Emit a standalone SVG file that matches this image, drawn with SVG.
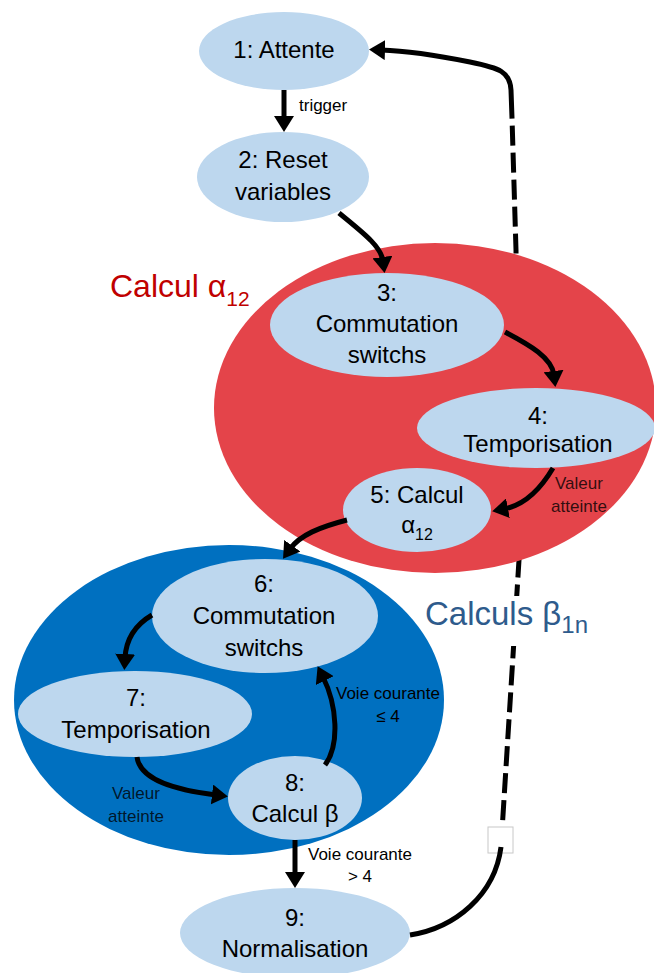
<svg xmlns="http://www.w3.org/2000/svg" width="654" height="973" viewBox="0 0 654 973">
<style>
.node{fill:#bdd7ee;}
.nt{font-family:"Liberation Sans",Arial,sans-serif;font-size:24px;fill:#000;text-anchor:middle;}
.lbl{font-family:"Liberation Sans",Arial,sans-serif;font-size:17px;fill:#000;}
.lbl2{font-family:"Liberation Sans",Arial,sans-serif;font-size:17px;fill:#000;fill-opacity:0.8;text-anchor:middle;}
.edge{fill:none;stroke:#000;stroke-width:5;}
.dash{fill:none;stroke:#000;stroke-width:5;stroke-dasharray:20 7;}
</style>
<defs>
<marker id="arr" markerUnits="userSpaceOnUse" markerWidth="16" markerHeight="20" refX="4" refY="10" orient="auto">
<path d="M0,0 L16,10 L0,20 Z" fill="#000"/>
</marker>
</defs>
<rect width="654" height="973" fill="#fff"/>

<g id="return-dashed">
<path class="dash" d="M501 847 L519 560 L516 250 L512 118"/>
</g>

<g id="group-alpha">
<ellipse cx="435" cy="408" rx="221" ry="165" fill="#e4444a"/>
<text x="110" y="297" font-family="Liberation Sans,Arial,sans-serif" font-size="32" fill="#c00000">Calcul α<tspan font-size="21" dy="9">12</tspan></text>
</g>

<g id="group-beta">
<ellipse cx="229" cy="700" rx="215" ry="155" fill="#0070c0"/>
<rect x="498" y="596" width="32" height="50" fill="#fff"/>
<text x="425" y="625" font-family="Liberation Sans,Arial,sans-serif" font-size="33" fill="#2e5b8c">Calculs β<tspan font-size="24" dy="8">1n</tspan></text>
</g>

<rect x="488" y="827" width="25" height="26" fill="#fff" stroke="#c8c8c8" stroke-width="1"/>

<g id="n1"><ellipse class="node" cx="284" cy="51" rx="85" ry="39"/><text class="nt" x="284" y="58">1: Attente</text></g>
<g id="n2"><ellipse class="node" cx="283" cy="177" rx="86" ry="45"/><text class="nt" x="283" y="168">2: Reset</text><text class="nt" x="283" y="200">variables</text></g>
<g id="n3"><ellipse class="node" cx="387" cy="325" rx="117" ry="52"/><text class="nt" x="387" y="301">3:</text><text class="nt" x="387" y="332">Commutation</text><text class="nt" x="387" y="363">switchs</text></g>
<g id="n4"><ellipse class="node" cx="536" cy="428" rx="119" ry="40"/><text class="nt" x="538" y="424">4:</text><text class="nt" x="538" y="452">Temporisation</text></g>
<g id="n5"><ellipse class="node" cx="417" cy="510" rx="74" ry="42"/><text class="nt" x="417" y="503">5: Calcul</text><text class="nt" x="417" y="533">α<tspan font-size="16" dy="7">12</tspan></text></g>
<g id="n6"><ellipse class="node" cx="265" cy="616" rx="113" ry="57"/><text class="nt" x="264" y="592">6:</text><text class="nt" x="264" y="624">Commutation</text><text class="nt" x="264" y="656">switchs</text></g>
<g id="n7"><ellipse class="node" cx="135" cy="714" rx="117" ry="43"/><text class="nt" x="136" y="706">7:</text><text class="nt" x="136" y="738">Temporisation</text></g>
<g id="n8"><ellipse class="node" cx="295" cy="798" rx="67" ry="42"/><text class="nt" x="295" y="791">8:</text><text class="nt" x="295" y="822">Calcul β</text></g>
<g id="n9"><ellipse class="node" cx="295" cy="933" rx="115" ry="45"/><text class="nt" x="295" y="926">9:</text><text class="nt" x="295" y="957">Normalisation</text></g>

<g id="connectors">
<path class="edge" d="M284 90 L284 120" marker-end="url(#arr)"/>
<path class="edge" d="M339 213 C362 232 381 246 383 261" marker-end="url(#arr)"/>
<path class="edge" d="M505 332 C530 345 552 358 554 375" marker-end="url(#arr)"/>
<path class="edge" d="M553 468 C540 490 525 505 504 509" marker-end="url(#arr)"/>
<path class="edge" d="M347 520 C320 527 300 535 290 549" marker-end="url(#arr)"/>
<path class="edge" d="M152 615 C135 625 126 640 125 658" marker-end="url(#arr)"/>
<path class="edge" d="M137 757 C140 780 175 790 216 795" marker-end="url(#arr)"/>
<path class="edge" d="M325 765 C340 745 337 705 323 677" marker-end="url(#arr)"/>
<path class="edge" d="M295 840 L295 876" marker-end="url(#arr)"/>
<path class="edge" d="M410 935 C455 928 495 895 501 847"/>
<path class="edge" d="M512 118 L511 90 C510 72 500 68 470 62 C440 56 410 51 381 50" marker-end="url(#arr)"/>
</g>

<g id="labels">
<text class="lbl" x="299" y="111">trigger</text>
<text class="lbl2" x="579" y="489">Valeur</text>
<text class="lbl2" x="579" y="512">atteinte</text>
<text class="lbl2" x="136" y="799">Valeur</text>
<text class="lbl2" x="136" y="822">atteinte</text>
<text class="lbl" x="388" y="699" text-anchor="middle">Voie courante</text>
<text class="lbl" x="388" y="722" text-anchor="middle">≤ 4</text>
<text class="lbl" x="360" y="860" text-anchor="middle">Voie courante</text>
<text class="lbl" x="360" y="882" text-anchor="middle">&gt; 4</text>
</g>
</svg>
